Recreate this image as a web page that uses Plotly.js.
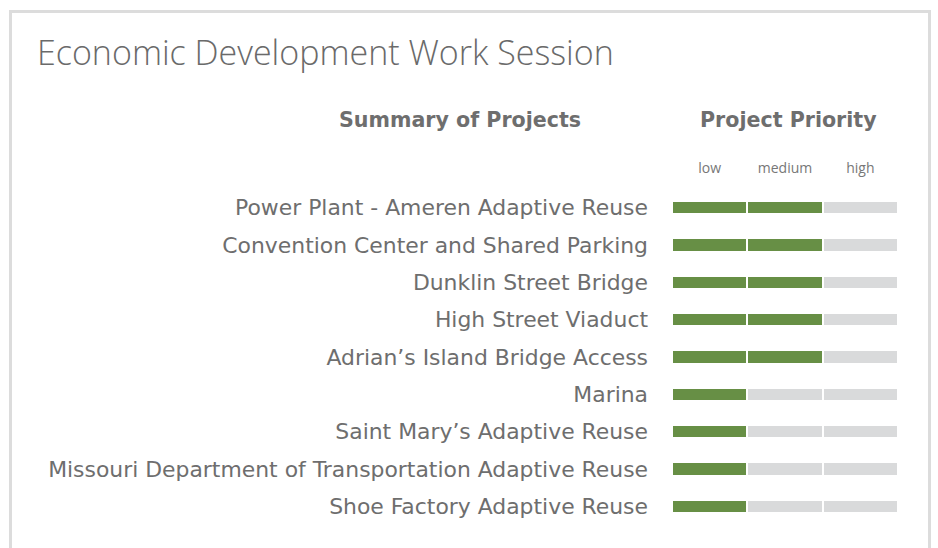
<!DOCTYPE html>
<html>
<head>
<meta charset="utf-8">
<script src="https://cdn.plot.ly/plotly-3.0.1.min.js"></script>
<style>
  html, body { margin:0; padding:0; background:#fff; overflow:hidden; }
  #wrap { position:relative; width:938px; height:548px; }
  #chart { width:938px; height:548px; }
  #frame { position:absolute; left:9px; top:10px; width:916px; height:560px;
           border:3px solid #dcdcdc; pointer-events:none; }
</style>
</head>
<body>
<div id="wrap">
  <div id="chart"></div>
  <div id="frame"></div>
</div>
<script>
const projects = [
  "Power Plant - Ameren Adaptive Reuse",
  "Convention Center and Shared Parking",
  "Dunklin Street Bridge",
  "High Street Viaduct",
  "Adrian\u2019s Island Bridge Access",
  "Marina",
  "Saint Mary\u2019s Adaptive Reuse",
  "Missouri Department of Transportation Adaptive Reuse",
  "Shoe Factory Adaptive Reuse"
];
const priority = [2, 2, 2, 2, 2, 1, 1, 1, 1];
const levels = ["low", "medium", "high"];

const GREEN = "#678f45";
const GRAY = "#d9dadb";
const TEXT = "#6e6e6e";

const traces = levels.map((lvl, k) => ({
  type: "bar",
  orientation: "h",
  name: lvl,
  y: projects,
  x: projects.map(() => 1),
  width: 0.35,
  marker: {
    color: priority.map(p => (p > k ? GREEN : GRAY)),
    line: { color: "#ffffff", width: 2 }
  },
  hoverinfo: "y+name",
  showlegend: false
}));

const layout = {
  width: 938, height: 548,
  margin: { l: 672, r: 40, t: 189, b: 23, pad: 0 },
  paper_bgcolor: "#ffffff",
  plot_bgcolor: "#ffffff",
  barmode: "stack",
  font: { family: "DejaVu Sans, sans-serif", color: TEXT },
  title: {
    text: "Economic Development Work Session",
    font: { family: "Open Sans", size: 34, color: "#6a6a6a", weight: 300 },
    x: 37 / 938, xanchor: "left", xref: "container",
    y: 1 - 53 / 548, yanchor: "middle", yref: "container"
  },
  xaxis: {
    range: [0, 3],
    side: "top",
    tickvals: [0.5, 1.5, 2.5],
    ticktext: levels,
    tickfont: { size: 14, color: "#777777", family: "Open Sans" },
    ticks: "",
    ticklabelstandoff: 12,
    showgrid: false, zeroline: false, showline: false,
    fixedrange: true
  },
  yaxis: {
    type: "category",
    categoryorder: "array",
    categoryarray: projects,
    autorange: "reversed",
    tickfont: { size: 21.9, color: TEXT, family: "DejaVu Sans" },
    ticks: "",
    ticklabelstandoff: 23,
    showgrid: false, zeroline: false, showline: false,
    fixedrange: true
  },
  annotations: [
    {
      text: "<b>Summary of Projects</b>",
      xref: "paper", yref: "paper",
      x: (460 - 672) / 226, y: (525 - 120) / 336,
      xanchor: "center", yanchor: "middle", showarrow: false,
      font: { size: 20.6, color: "#6e6e6e", family: "DejaVu Sans" }
    },
    {
      text: "<b>Project Priority</b>",
      xref: "paper", yref: "paper",
      x: (788 - 672) / 226, y: (525 - 120) / 336,
      xanchor: "center", yanchor: "middle", showarrow: false,
      font: { size: 20.6, color: "#6e6e6e", family: "DejaVu Sans" }
    }
  ]
};

Plotly.newPlot("chart", traces, layout, { displayModeBar: false });
</script>
</body>
</html>
